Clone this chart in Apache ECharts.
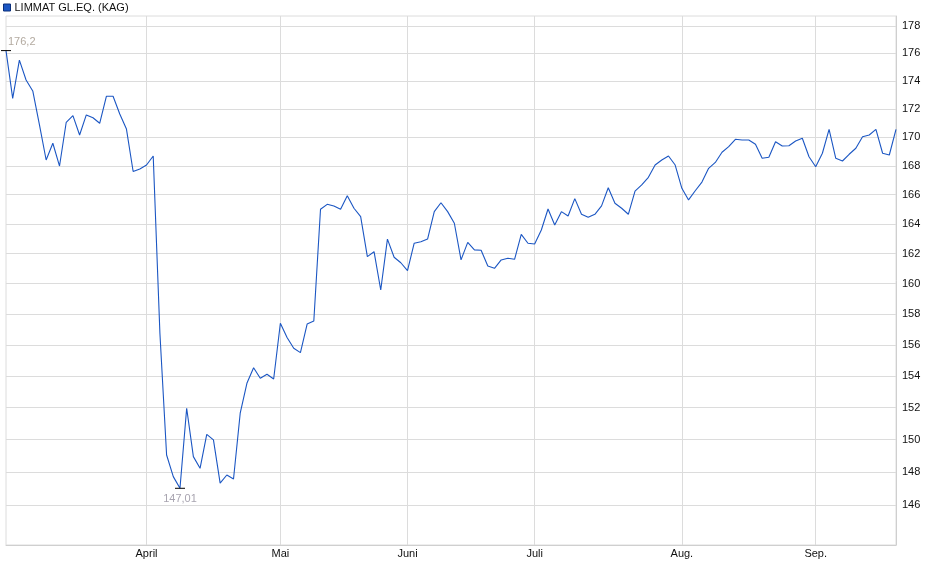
<!DOCTYPE html>
<html>
<head>
<meta charset="utf-8">
<title>LIMMAT GL.EQ. (KAG)</title>
<script src="https://cdn.jsdelivr.net/npm/echarts@6/dist/echarts.min.js"></script>
<style>
  html, body { margin: 0; padding: 0; background: #fff; }
  #chart { width: 940px; height: 579px; }
</style>
</head>
<body>
<div id="chart"></div>
<script>
// Kursverlauf, ein Wert pro Handelstag (ab 03.03.2025)
var seriesName = "LIMMAT GL.EQ. (KAG)";
var startDate = "2025-03-03";
var holidays = ["2025-04-18", "2025-04-21", "2025-05-01", "2025-05-29", "2025-05-30",
  "2025-06-09", "2025-06-19", "2025-07-31", "2025-08-01"];
var monthNames = ["Jan.", "Feb.", "März", "April", "Mai", "Juni", "Juli", "Aug.", "Sep.", "Okt.", "Nov.", "Dez."];
var yTicks = [146, 148, 150, 152, 154, 156, 158, 160, 162, 164, 166, 168, 170, 172, 174, 176, 178];

var prices = [
  176.2, 172.75, 175.51, 174.07, 173.28, 170.86, 168.40, 169.57, 167.98, 171.05,
  171.52, 170.15, 171.57, 171.37, 170.98, 172.90, 172.90, 171.64, 170.57, 167.60,
  167.78, 168.05, 168.68, 156.75, 149.05, 147.72, 147.01, 151.96, 148.95, 148.23,
  150.33, 149.98, 147.32, 147.82, 147.58, 151.65, 153.54, 154.53, 153.86, 154.11,
  153.81, 157.40, 156.48, 155.78, 155.50, 157.35, 157.55, 165.00, 165.34, 165.23,
  165.00, 165.93, 165.07, 164.50, 161.80, 162.13, 159.58, 162.98, 161.76, 161.39,
  160.86, 162.70, 162.80, 162.98, 164.84, 165.45, 164.84, 164.05, 161.58, 162.76,
  162.25, 162.23, 161.17, 161.02, 161.58, 161.69, 161.62, 163.30, 162.70, 162.65,
  163.59, 165.02, 163.93, 164.84, 164.54, 165.73, 164.66, 164.45, 164.66, 165.23,
  166.48, 165.41, 165.07, 164.66, 166.25, 166.67, 167.20, 168.05, 168.40, 168.68,
  168.05, 166.44, 165.64, 166.27, 166.87, 167.82, 168.23, 168.94, 169.33, 169.85,
  169.80, 169.80, 169.50, 168.52, 168.59, 169.68, 169.38, 169.40, 169.73, 169.92,
  168.63, 167.93, 168.87, 170.55, 168.52, 168.33, 168.80, 169.22, 170.03, 170.15,
  170.55, 168.87, 168.75, 170.55
];

// Handelstage (Wochenenden und Feiertage ausgelassen)
var dates = [];
var d = new Date(startDate + "T12:00:00Z");
while (dates.length < prices.length) {
  var iso = d.toISOString().slice(0, 10);
  var wd = d.getUTCDay();
  if (wd !== 0 && wd !== 6 && holidays.indexOf(iso) < 0) dates.push(iso);
  d.setUTCDate(d.getUTCDate() + 1);
}

function isMonthStart(i) {
  return i > 0 && dates[i].slice(5, 7) !== dates[i - 1].slice(5, 7);
}
function comma(v) {
  return String(v).replace(".", ",");
}

var fontFamily = "Liberation Sans, Arial, sans-serif";
var gridColor = "#dcdcdc";
var lineColor = "#1b56c3";

var chart = echarts.init(document.getElementById("chart"));

var option = {
  animation: false,
  textStyle: { fontFamily: fontFamily },
  legend: {
    data: [seriesName],
    left: 0,
    top: 0,
    padding: [2, 3],
    icon: "rect",
    itemWidth: 7,
    itemHeight: 7,
    itemGap: 5,
    itemStyle: { borderColor: "#0b2f7a", borderWidth: 1 },
    textStyle: { fontSize: 11, color: "#111", fontFamily: fontFamily, padding: [0, 0, 0, -1] },
    selectedMode: false
  },
  grid: {
    left: 6,
    right: 44,
    top: 16,
    bottom: 34,
    show: true,
    borderColor: gridColor,
    borderWidth: 1
  },
  xAxis: {
    type: "category",
    data: dates,
    boundaryGap: false,
    axisLine: { show: true, lineStyle: { color: "#cfcfcf" } },
    axisTick: { show: false },
    axisLabel: {
      interval: function (i) { return isMonthStart(i); },
      formatter: function (v) { return monthNames[parseInt(v.slice(5, 7), 10) - 1]; },
      color: "#111",
      fontSize: 11,
      margin: 3
    },
    splitLine: {
      show: true,
      interval: function (i) { return isMonthStart(i); },
      lineStyle: { color: gridColor, width: 1 }
    }
  },
  yAxis: {
    type: "log",
    position: "right",
    min: 143.6,
    max: 178.74,
    axisLine: { show: true, lineStyle: { color: "#cfcfcf" } },
    axisTick: { show: false, customValues: yTicks },
    axisLabel: {
      customValues: yTicks,
      formatter: function (v) { return String(Math.round(v)); },
      color: "#111",
      fontSize: 11,
      margin: 6
    },
    splitLine: { show: true, lineStyle: { color: gridColor, width: 1 } }
  },
  series: [{
    name: seriesName,
    type: "line",
    data: prices,
    showSymbol: false,
    symbol: "none",
    color: lineColor,
    lineStyle: { color: lineColor, width: 1.1 },
    markPoint: {
      symbol: "rect",
      symbolSize: [10, 1],
      itemStyle: { color: "#000" },
      silent: true,
      data: [
        {
          type: "max",
          label: { position: [7, -14], align: "left", color: "#b3aaa0", fontSize: 11, formatter: function (p) { return comma(p.value); } }
        },
        {
          type: "min",
          label: { position: [5, 6], align: "center", color: "#a8a4b0", fontSize: 11, formatter: function (p) { return comma(p.value); } }
        }
      ]
    }
  }]
};

chart.setOption(option);
</script>
</body>
</html>
